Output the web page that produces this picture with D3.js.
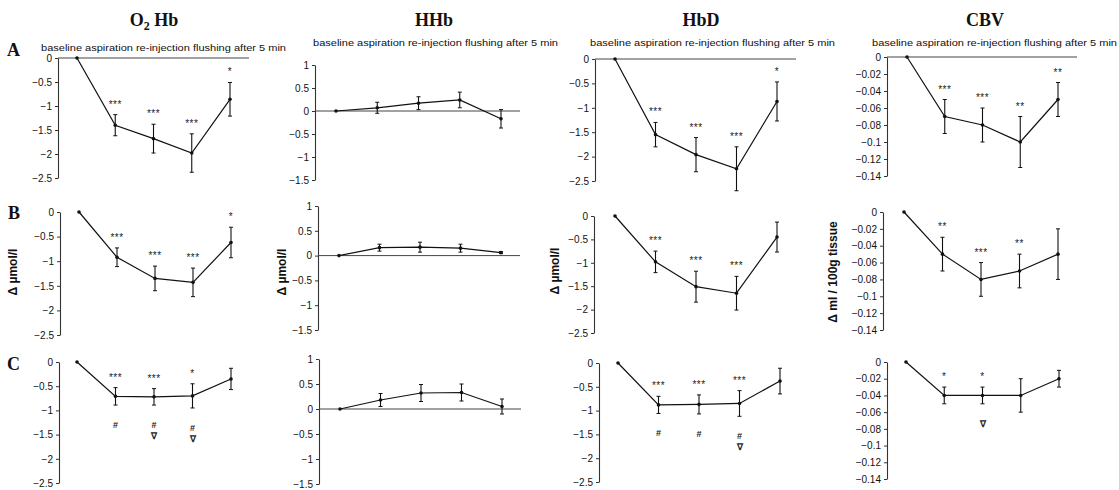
<!DOCTYPE html>
<html><head><meta charset="utf-8">
<script src="https://cdn.jsdelivr.net/npm/d3@7"></script>
<style>body{margin:0;background:#fff} svg{display:block}</style>
</head><body>
<svg id="c" width="1119" height="490"></svg>
<script>
// ---------- DATA ----------
const categories = ["baseline", "aspiration", "re-injection", "flushing", "after 5 min"];
const parameterTitles = ["O2Hb", "HHb", "HbD", "CBV"];
const rowLabels = ["A", "B", "C"];

// tick values / labels
const ticksHb = [0, -0.5, -1, -1.5, -2, -2.5];
const tickLabelsHb = ["0", "\u22120.5", "\u22121", "\u22121.5", "\u22122", "\u22122.5"];
const ticksHHb = [1, 0.5, 0, -0.5, -1, -1.5];
const tickLabelsHHb = ["1", "0.5", "0", "\u22120.5", "\u22121", "\u22121.5"];
const ticksCBV = [0, -0.02, -0.04, -0.06, -0.08, -0.1, -0.12, -0.14];
const tickLabelsCBV = ["0", "\u22120.02", "\u22120.04", "\u22120.06", "\u22120.08", "\u22120.1", "\u22120.12", "\u22120.14"];

// Row A
const o2hbA = [0, -1.40, -1.68, -1.98, -0.86];
const o2hbAErr = [0, 0.22, 0.30, 0.40, 0.35];
const hhbA = [0, 0.07, 0.17, 0.24, -0.17];
const hhbAErr = [0, 0.12, 0.14, 0.17, 0.20];
const hbdA = [0, -1.55, -1.96, -2.25, -0.87];
const hbdAErr = [0, 0.25, 0.35, 0.45, 0.40];
const cbvA = [0, -0.07, -0.08, -0.10, -0.05];
const cbvAErr = [0, 0.02, 0.02, 0.03, 0.02];
// Row B
const o2hbB = [0, -0.92, -1.35, -1.43, -0.62];
const o2hbBErr = [0, 0.19, 0.25, 0.29, 0.31];
const hhbB = [0, 0.16, 0.17, 0.15, 0.06];
const hhbBErr = [0, 0.07, 0.10, 0.08, 0.02];
const hbdB = [0, -0.98, -1.51, -1.65, -0.45];
const hbdBErr = [0, 0.23, 0.33, 0.36, 0.32];
const cbvB = [0, -0.05, -0.08, -0.07, -0.05];
const cbvBErr = [0, 0.02, 0.02, 0.02, 0.03];
// Row C
const o2hbC = [0, -0.71, -0.72, -0.70, -0.35];
const o2hbCErr = [0, 0.18, 0.17, 0.25, 0.22];
const hhbC = [0, 0.18, 0.32, 0.33, 0.05];
const hhbCErr = [0, 0.13, 0.17, 0.17, 0.15];
const hbdC = [0, -0.88, -0.87, -0.85, -0.38];
const hbdCErr = [0, 0.18, 0.20, 0.27, 0.27];
const cbvC = [0, -0.04, -0.04, -0.04, -0.02];
const cbvCErr = [0, 0.01, 0.01, 0.02, 0.01];

// significance markers (above / below)
const starsO2hbA = ["", "***", "***", "***", "*"];
const starsHbdA = ["", "***", "***", "***", "*"];
const starsCbvA = ["", "***", "***", "**", "**"];
const starsO2hbB = ["", "***", "***", "***", "*"];
const starsHbdB = ["", "***", "***", "***", ""];
const starsCbvB = ["", "**", "***", "**", ""];
const starsO2hbC = ["", "***", "***", "*", ""];
const starsHbdC = ["", "***", "***", "***", ""];
const starsCbvC = ["", "*", "*", "", ""];
const belowO2hbC = [[], ["#"], ["#", "\u2207"], ["#", "\u2207"], []];
const belowHbdC = [[], ["#"], ["#"], ["#", "\u2207"], []];
const belowCbvC = [[], [], ["\u2207"], [], []];
const none = ["", "", "", "", ""];
const noneBelow = [[], [], [], [], []];

const unitHb = "\u0394 \u00b5mol/l";
const unitCBV = "\u0394 ml / 100g tissue";

// ---------- LAYOUT ----------
const scaleTypes = [
  {domain: [-2.5, 0], ticks: ticksHb, labels: tickLabelsHb},
  {domain: [-1.5, 1], ticks: ticksHHb, labels: tickLabelsHHb},
  {domain: [-2.5, 0], ticks: ticksHb, labels: tickLabelsHb},
  {domain: [-0.14, 0], ticks: ticksCBV, labels: tickLabelsCBV}
];
const panels = [
  // row A
  {r:0,c:0,ax:58, top:58, bot:178,x0:77, x1:230,v:o2hbA,e:o2hbAErr,s:starsO2hbA,b:noneBelow,zero:true},
  {r:0,c:1,ax:315,top:65, bot:180,x0:336,x1:501,v:hhbA,e:hhbAErr,s:none,b:noneBelow,zero:true},
  {r:0,c:2,ax:595,top:59, bot:181,x0:615,x1:777,v:hbdA,e:hbdAErr,s:starsHbdA,b:noneBelow,zero:true},
  {r:0,c:3,ax:887,top:57, bot:176,x0:907,x1:1058,v:cbvA,e:cbvAErr,s:starsCbvA,b:noneBelow,zero:true},
  // row B
  {r:1,c:0,ax:60, top:212,bot:335,x0:79, x1:231,v:o2hbB,e:o2hbBErr,s:starsO2hbB,b:noneBelow,zero:false},
  {r:1,c:1,ax:318,top:206,bot:330,x0:339,x1:501,v:hhbB,e:hhbBErr,s:none,b:noneBelow,zero:true},
  {r:1,c:2,ax:594,top:216,bot:333,x0:615,x1:777,v:hbdB,e:hbdBErr,s:starsHbdB,b:noneBelow,zero:false},
  {r:1,c:3,ax:883,top:212,bot:330,x0:904,x1:1058,v:cbvB,e:cbvBErr,s:starsCbvB,b:noneBelow,zero:false},
  // row C
  {r:2,c:0,ax:59, top:362,bot:483,x0:77, x1:231,v:o2hbC,e:o2hbCErr,s:starsO2hbC,b:belowO2hbC,zero:false},
  {r:2,c:1,ax:319,top:359,bot:484,x0:340,x1:502,v:hhbC,e:hhbCErr,s:none,b:noneBelow,zero:true},
  {r:2,c:2,ax:599,top:363,bot:482,x0:618,x1:780,v:hbdC,e:hbdCErr,s:starsHbdC,b:belowHbdC,zero:false},
  {r:2,c:3,ax:887,top:362,bot:479,x0:906,x1:1059,v:cbvC,e:cbvCErr,s:starsCbvC,b:belowCbvC,zero:false}
];

const svg = d3.select("#c");
const sans = "'Liberation Sans', Arial, sans-serif";
const serif = "'Liberation Serif', 'Times New Roman', serif";
const ink = "#111";

// column titles
const titleX = [154, 434, 701, 985];
parameterTitles.forEach((t, i) => {
  const tx = svg.append("text").attr("x", titleX[i]).attr("y", 26)
    .attr("text-anchor", "middle").attr("font-family", serif)
    .attr("font-weight", "bold").attr("font-size", 18).attr("fill", ink);
  if (t === "O2Hb") {
    tx.append("tspan").text("O");
    tx.append("tspan").text("2").attr("font-size", 12).attr("dy", 4);
    tx.append("tspan").text(" Hb").attr("dy", -4);
  } else tx.text(t);
});

// subtitles (categories) above row A
const subX = [41, 313, 590, 872];
const subY = [51, 46, 46, 46];
subX.forEach((x, i) => {
  svg.append("text").attr("x", x).attr("y", subY[i])
    .attr("font-family", sans).attr("font-size", 9.5).attr("fill", ink)
    .attr("textLength", 245).attr("lengthAdjust", "spacingAndGlyphs")
    .text(categories.join(" "));
});

// row labels
const rowLabelPos = [[7, 56], [8, 219], [7, 370]];
rowLabels.forEach((l, i) => {
  svg.append("text").attr("x", rowLabelPos[i][0]).attr("y", rowLabelPos[i][1])
    .attr("font-family", serif).attr("font-weight", "bold").attr("font-size", 18)
    .attr("fill", ink).text(l);
});

// y axis unit labels (row B)
const unitPos = [[17, 272, unitHb], [286, 272, unitHb], [559, 271, unitHb], [837, 272, unitCBV]];
unitPos.forEach(([x, y, t]) => {
  svg.append("text").attr("transform", `translate(${x},${y}) rotate(-90)`)
    .attr("text-anchor", "middle").attr("font-family", sans).attr("font-weight", "bold")
    .attr("font-size", 12).attr("fill", ink).text(t);
});

panels.forEach(p => {
  const st = scaleTypes[p.c];
  const y = d3.scaleLinear().domain(st.domain).range([p.bot, p.top]);
  const x = d3.scalePoint().domain(categories).range([p.x0, p.x1]);
  const g = svg.append("g");

  // axis
  const axis = d3.axisLeft(y).tickValues(st.ticks)
    .tickFormat((d, i) => st.labels[i]).tickSize(3).tickSizeOuter(0).tickPadding(3);
  const ga = g.append("g").attr("transform", `translate(${p.ax},0)`).call(axis);
  ga.select(".domain").attr("stroke", "#333").attr("stroke-width", 1.1);
  ga.selectAll(".tick line").attr("stroke", "#333");
  ga.selectAll(".tick text").attr("font-family", sans).attr("font-size", 10).attr("fill", ink);

  // zero line
  if (p.zero) {
    g.append("line").attr("x1", p.ax).attr("x2", p.x1 + 19)
      .attr("y1", y(0)).attr("y2", y(0)).attr("stroke", "#444").attr("stroke-width", 1);
  }

  const data = categories.map((c, i) => ({c, v: p.v[i], e: p.e[i], s: p.s[i], b: p.b[i]}));

  // error bars
  const eb = g.selectAll(".eb").data(data.filter(d => d.e > 0)).enter().append("g");
  eb.append("line").attr("x1", d => x(d.c)).attr("x2", d => x(d.c))
    .attr("y1", d => y(d.v + d.e)).attr("y2", d => y(d.v - d.e))
    .attr("stroke", ink).attr("stroke-width", 1.1);
  [1, -1].forEach(sg => {
    eb.append("line").attr("x1", d => x(d.c) - 2).attr("x2", d => x(d.c) + 2)
      .attr("y1", d => y(d.v + sg * d.e)).attr("y2", d => y(d.v + sg * d.e))
      .attr("stroke", ink).attr("stroke-width", 1);
  });

  // line
  const line = d3.line().x(d => x(d.c)).y(d => y(d.v));
  g.append("path").datum(data).attr("d", line).attr("fill", "none")
    .attr("stroke", ink).attr("stroke-width", 1.2);
  g.selectAll(".pt").data(data).enter().append("circle")
    .attr("cx", d => x(d.c)).attr("cy", d => y(d.v)).attr("r", 1.8).attr("fill", ink);

  // stars above
  g.selectAll(".st").data(data.filter(d => d.s)).enter().append("text")
    .attr("x", d => x(d.c)).attr("y", d => y(d.v + d.e) - 12 + 5)
    .attr("text-anchor", "middle").attr("font-family", sans).attr("font-size", 10)
    .attr("letter-spacing", 0.5).attr("fill", "#222").text(d => d.s);

  // markers below
  data.forEach(d => {
    d.b.forEach((m, k) => {
      g.append("text").attr("x", x(d.c)).attr("y", y(d.v - d.e) + 20 + 3 + k * 11)
        .attr("text-anchor", "middle").attr("font-family", sans).attr("font-size", 9)
        .attr("font-weight", "bold").attr("fill", "#222").text(m);
    });
  });
});
</script>
</body></html>
